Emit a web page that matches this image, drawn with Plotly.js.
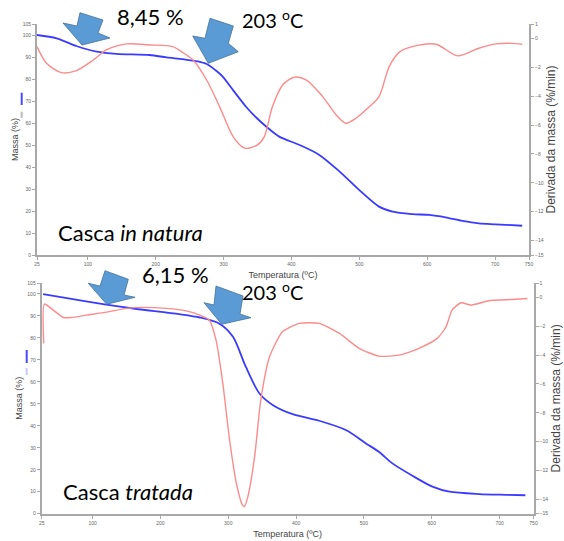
<!DOCTYPE html>
<html><head><meta charset="utf-8">
<script src="https://cdn.plot.ly/plotly-3.0.1.min.js"></script>
<style>html,body{margin:0;padding:0;background:#fff}#chart{width:564px;height:541px}</style>
</head><body><div id="chart"></div>
<script>
// X axis ticks
const xTicks = [25,100,200,300,400,500,600,700,750];
const massTicks = [0,10,20,30,40,50,60,70,80,90,100,105];
const derivTicks = [1,0,-2,-4,-6,-8,-10,-12,-14,-15];

// Casca in natura (top)
const natTempMass = [25,54,83,113,142,191,216,240,262,275,290,299,315,333,348,363,382,412,441,471,500,529,549,578,603,627,652,676,701,740];
const natMass = [100,98.5,95,92.4,91.4,90.9,89.8,89,88,86.8,83.5,81,74.5,67.4,62.5,58.3,53.8,50,45.5,37.9,29.5,22,19.7,18.6,18.2,17.1,15.5,14.4,13.95,13.3];
const natTempDeriv = [25,39,61,83,108,127,157,191,225,240,255,275,294,314,331,350,360,372,387,404,422,446,466,480,495,515,529,544,559,578,613,645,676,701,725,740];
const natDeriv = [-0.57,-1.72,-2.37,-2.23,-1.49,-0.8,-0.38,-0.45,-0.57,-0.98,-1.49,-2.88,-4.72,-6.8,-7.6,-7.37,-6.8,-4.72,-3.22,-2.69,-2.88,-4.03,-5.3,-5.87,-5.53,-4.72,-4.03,-1.95,-0.95,-0.57,-0.4,-1.21,-0.68,-0.38,-0.34,-0.4];

// Casca tratada (bottom)
const tratTempMass = [27,60,120,160,228,258,287,307,326,346,366,395,434,474,503,522,542,572,601,626,670,709,738];
const tratMass = [99.9,98.2,95.2,93.4,90.8,89.3,86.5,80.5,66.8,54.7,49.4,45.3,42.3,38,32,28.2,22.9,17.2,12.3,10,8.95,8.6,8.4];
const tratTempDeriv = [28,29,42,57,69,91,121,150,174,209,238,258,272,282,292,302,312,321,324,329,339,348,361,380,405,434,464,493,522,552,581,608,621,630,643,657,669,684,718,741];
const tratDeriv = [-3.2,-0.46,-0.88,-1.39,-1.39,-1.23,-1.02,-0.76,-0.69,-0.76,-0.93,-1.23,-1.57,-2.96,-5.96,-9.89,-12.9,-14.4,-14.5,-13.8,-11.0,-7.1,-4.1,-2.38,-1.8,-1.8,-2.5,-3.53,-4.07,-4.0,-3.53,-2.84,-2.04,-0.88,-0.37,-0.53,-0.42,-0.23,-0.14,-0.07];

const W = 564, H = 541;
const BLUE = '#3b3bff', RED = '#ff8a8a';

const traces = [
  {x: natTempMass, y: natMass, xaxis:'x', yaxis:'y', type:'scatter', mode:'lines', line:{color:BLUE, width:1.8, shape:'spline', smoothing:0.8}},
  {x: natTempDeriv, y: natDeriv, xaxis:'x', yaxis:'y2', type:'scatter', mode:'lines', line:{color:RED, width:1.4, shape:'spline', smoothing:0.8}},
  {x: tratTempMass, y: tratMass, xaxis:'x2', yaxis:'y3', type:'scatter', mode:'lines', line:{color:BLUE, width:1.8, shape:'spline', smoothing:0.8}},
  {x: tratTempDeriv, y: tratDeriv, xaxis:'x2', yaxis:'y4', type:'scatter', mode:'lines', line:{color:RED, width:1.4, shape:'spline', smoothing:0.6}}
];

const tickFont = {family:'Liberation Sans, Arial, sans-serif', size:5, color:'#666'};
const common = {showline:true, linecolor:'#a8a8a8', linewidth:2, ticks:'outside', ticklen:3, tickcolor:'#a8a8a8', tickwidth:1, showgrid:false, zeroline:false, tickfont:tickFont, tickmode:'array'};

function xAx(domain, anchor){
  return Object.assign({}, common, {domain:domain, anchor:anchor, range:[25,750], tickvals:xTicks,
    title:{text:'Temperatura (ºC)', font:{family:'Liberation Sans, Arial, sans-serif', size:9, color:'#444'}, standoff:6}});
}
function yMass(domain, anchor){
  return Object.assign({}, common, {domain:domain, anchor:anchor, range:[0,105], tickvals:massTicks,
    title:{text:'Massa (%)', font:{family:'Liberation Sans, Arial, sans-serif', size:9, color:'#444'}, standoff:3}});
}
function yDeriv(overlay, anchor){
  return Object.assign({}, common, {overlaying:overlay, anchor:anchor, side:'right', range:[-15,1], tickvals:derivTicks,
    title:{text:'Derivada da massa (%/min)', font:{family:'Liberation Sans, Arial, sans-serif', size:12, color:'#444'}, standoff:4}});
}

function P(pts){ return 'M' + pts.map(p => (p[0]/W).toFixed(4) + ',' + (1 - p[1]/H).toFixed(4)).join(' L') + ' Z'; }
const arrowStyle = {type:'path', xref:'paper', yref:'paper', fillcolor:'#5b9bd5', line:{color:'#41719c', width:0.8}};
const arrows = [
  [[80,12.7],[103,20],[98,33],[110,38],[82,45],[63,23],[77,26]],
  [[210,18.3],[233.3,26],[228.3,43.3],[238.3,51.7],[208.3,63.3],[192.7,36],[205,38.3]],
  [[105,270.7],[128.3,279.3],[124,295],[135,297.3],[106.7,304.3],[88.3,283.3],[100,286]],
  [[216,286],[243,296],[240,314],[251,317.7],[221.7,324.3],[204,302.7],[214,305]]
];
const shapes = arrows.map(a => Object.assign({}, arrowStyle, {path:P(a)}));
function seg(x, y0, y1, color){ return {type:'line', xref:'paper', yref:'paper', x0:x/W, x1:x/W, y0:1-y0/H, y1:1-y1/H, line:{color:color, width:2}}; }
shapes.push(seg(21.7, 92.7, 105, '#4a4aff'));
shapes.push(seg(21.7, 111.7, 118, '#bbbbbb'));
shapes.push(seg(26.7, 350, 363, '#4a4aff'));
shapes.push(seg(26.7, 368, 375, '#c8c8ff'));

const txtFont = {family:'Lato, Open Sans, sans-serif', size:20, color:'#000'};
function ann(text, x, y, size){ return {text:text, xref:'paper', yref:'paper', x:x/W, y:1-y/H, xanchor:'center', yanchor:'middle', showarrow:false, font:Object.assign({}, txtFont, {size:size||20})}; }
const annotations = [
  ann('8,45 %', 150, 16, 22),
  ann('203 <sup>o</sup>C', 272, 19, 20),
  ann('6,15 %', 175, 274, 22),
  ann('203 <sup>o</sup>C', 272, 291, 20),
  ann('Casca <i>in natura</i>', 130, 232, 22),
  ann('Casca <i>tratada</i>', 128, 491, 22)
];

const layout = {
  width:W, height:H, margin:{l:0,r:0,t:0,b:0}, paper_bgcolor:'#fff', plot_bgcolor:'#fff', showlegend:false,
  xaxis: xAx([37/W, 529/W], 'y'),
  yaxis: yMass([1-255/H, 1-24/H], 'x'),
  yaxis2: yDeriv('y', 'x'),
  xaxis2: xAx([41.7/W, 533.5/W], 'y3'),
  yaxis3: yMass([1-513.7/H, 1-283/H], 'x2'),
  yaxis4: yDeriv('y3', 'x2'),
  shapes: shapes, annotations: annotations
};
Plotly.newPlot('chart', traces, layout, {displayModeBar:false, staticPlot:true});
</script></body></html>
